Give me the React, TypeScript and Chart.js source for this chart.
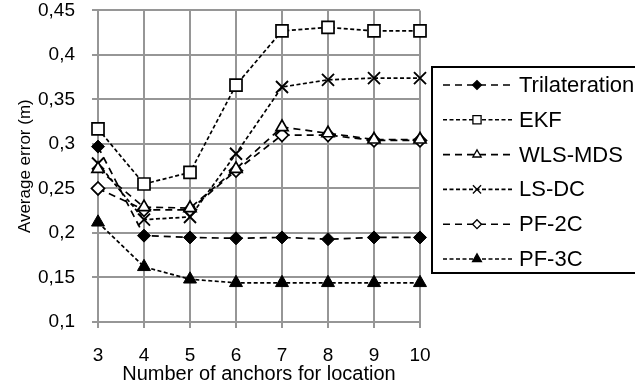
import React, { useEffect, useRef } from 'react';
import { Chart, registerables } from 'chart.js';

Chart.register(...registerables);

const categories = ['3', '4', '5', '6', '7', '8', '9', '10'];
const yTickValues = [0.1, 0.15, 0.2, 0.25, 0.3, 0.35, 0.4, 0.45];

const trilateration = [0.297, 0.197, 0.195, 0.194, 0.195, 0.193, 0.195, 0.195];
const ekf = [0.317, 0.255, 0.268, 0.366, 0.427, 0.431, 0.427, 0.427];
const wlsMds = [0.272, 0.229, 0.228, 0.272, 0.319, 0.312, 0.305, 0.305];
const lsDc = [0.278, 0.215, 0.218, 0.289, 0.364, 0.372, 0.374, 0.374];
const pf2c = [0.25, 0.226, 0.226, 0.27, 0.31, 0.31, 0.304, 0.304];
const pf3c = [0.212, 0.162, 0.148, 0.144, 0.144, 0.144, 0.144, 0.144];

const FONT = "'Liberation Sans', Arial, sans-serif";
const GRID = '#969696';
const LONG_DASH = [7, 5];
const SHORT_DASH = [4, 2.5];

function drawMarker(ctx: CanvasRenderingContext2D, style: string, x: number, y: number, r: number, fill: string, lw: number) {
  ctx.save();
  ctx.setLineDash([]);
  ctx.lineWidth = lw;
  ctx.strokeStyle = '#000';
  ctx.fillStyle = fill;
  ctx.beginPath();
  if (style === 'rectRot') {
    ctx.moveTo(x - r, y);
    ctx.lineTo(x, y - r);
    ctx.lineTo(x + r, y);
    ctx.lineTo(x, y + r);
    ctx.closePath();
    ctx.fill();
    ctx.stroke();
  } else if (style === 'rect') {
    const s = r * Math.SQRT1_2;
    ctx.rect(x - s, y - s, 2 * s, 2 * s);
    ctx.fill();
    ctx.stroke();
  } else if (style === 'triangle') {
    const c = Math.cos(Math.PI / 6) * r;
    ctx.moveTo(x, y - r);
    ctx.lineTo(x + c, y + r / 2);
    ctx.lineTo(x - c, y + r / 2);
    ctx.closePath();
    ctx.fill();
    ctx.stroke();
  } else if (style === 'crossRot') {
    const o = r * Math.SQRT1_2;
    ctx.moveTo(x - o, y - o);
    ctx.lineTo(x + o, y + o);
    ctx.moveTo(x + o, y - o);
    ctx.lineTo(x - o, y + o);
    ctx.stroke();
  }
  ctx.restore();
}

const boxLegend = {
  id: 'boxLegend',
  afterDraw(chart: any) {
    const ctx: CanvasRenderingContext2D = chart.ctx;
    const left = 432;
    const top = 67;
    const bottom = 273;
    const right = 650;
    ctx.save();
    ctx.lineWidth = 2;
    ctx.strokeStyle = '#000';
    ctx.setLineDash([]);
    ctx.strokeRect(left, top, right - left, bottom - top);
    chart.data.datasets.forEach((ds: any, i: number) => {
      const y = 85 + i * 34.8;
      ctx.save();
      ctx.strokeStyle = '#000';
      ctx.lineWidth = 1.6;
      ctx.setLineDash(ds.borderDash);
      ctx.beginPath();
      ctx.moveTo(443, y);
      ctx.lineTo(512, y);
      ctx.stroke();
      ctx.restore();
      drawMarker(ctx, ds.pointStyle, 477, y, ds.pointRadius * 0.68, ds.pointBackgroundColor, 1.3);
      ctx.fillStyle = '#000';
      ctx.font = `22px ${FONT}`;
      ctx.textAlign = 'left';
      ctx.textBaseline = 'middle';
      ctx.fillText(ds.label, 519, y + 1);
    });
    ctx.restore();
  },
};

function makeDataset(label: string, data: number[], dash: number[], pointStyle: string, radius: number, fill: string, pbw: number) {
  return {
    label,
    data,
    borderColor: '#000',
    borderWidth: 1.7,
    borderDash: dash,
    tension: 0,
    fill: false,
    pointStyle,
    pointRadius: radius,
    pointBackgroundColor: fill,
    pointBorderColor: '#000',
    pointBorderWidth: pbw,
  };
}

export default function App() {
  const canvasRef = useRef<HTMLCanvasElement | null>(null);

  useEffect(() => {
    if (!canvasRef.current) return;
    const chart = new Chart(canvasRef.current, {
      type: 'line',
      data: {
        labels: categories,
        datasets: [
          makeDataset('Trilateration', trilateration, LONG_DASH, 'rectRot', 6.5, '#000', 1),
          makeDataset('EKF', ekf, SHORT_DASH, 'rect', 8.5, '#fff', 1.7),
          makeDataset('WLS-MDS', wlsMds, LONG_DASH, 'triangle', 7, '#fff', 1.7),
          makeDataset('LS-DC', lsDc, SHORT_DASH, 'crossRot', 8.5, '#fff', 1.9),
          makeDataset('PF-2C', pf2c, LONG_DASH, 'rectRot', 6.5, '#fff', 1.7),
          makeDataset('PF-3C', pf3c, SHORT_DASH, 'triangle', 7.5, '#000', 1),
        ] as any,
      },
      options: {
        responsive: false,
        animation: false,
        layout: { padding: { top: 10, right: 215, left: 0, bottom: 0 } },
        plugins: {
          legend: { display: false },
          tooltip: { enabled: false },
        },
        scales: {
          x: {
            type: 'category',
            offset: false,
            grid: { color: GRID, lineWidth: 2, tickLength: 6, tickColor: GRID, drawTicks: true },
            border: { color: GRID, width: 2 },
            ticks: {
              font: { family: FONT, size: 19 },
              color: '#000',
              padding: 16.6,
              maxRotation: 0,
              autoSkip: false,
            },
            title: {
              display: true,
              text: 'Number of anchors for location',
              font: { family: FONT, size: 20 },
              color: '#000',
              padding: { top: 0, bottom: 2.5 },
            },
            afterFit: (s: any) => {
              s.height = 67;
            },
          },
          y: {
            type: 'linear',
            min: 0.1,
            max: 0.45,
            grid: { color: GRID, lineWidth: 2, tickLength: 6, tickColor: GRID, drawTicks: true },
            border: { color: GRID, width: 2 },
            afterBuildTicks: (s: any) => {
              s.ticks = yTickValues.map((v) => ({ value: v }));
            },
            ticks: {
              font: { family: FONT, size: 19 },
              color: '#000',
              padding: 17,
              callback: (v: any) => String(Math.round(Number(v) * 100) / 100).replace('.', ','),
            },
            title: {
              display: true,
              text: 'Average error (m)',
              font: { family: FONT, size: 17 },
              color: '#000',
              padding: { top: 14.8, bottom: 0 },
            },
            afterFit: (s: any) => {
              s.width = 98;
              s.paddingTop = 0;
              s.paddingBottom = 0;
            },
          },
        },
      } as any,
      plugins: [boxLegend],
    });
    return () => chart.destroy();
  }, []);

  return (
    <div style={{ position: 'absolute', left: 0, top: 0, width: 635, height: 389, background: '#fff' }}>
      <canvas ref={canvasRef} width={635} height={389} style={{ display: 'block', width: 635, height: 389 }} />
    </div>
  );
}
